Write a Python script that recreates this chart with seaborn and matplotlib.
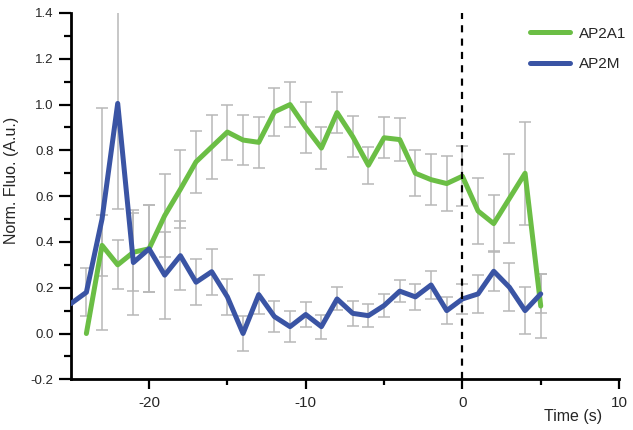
import numpy as np
import pandas as pd
import matplotlib
matplotlib.use("Agg")
import matplotlib.pyplot as plt
from matplotlib.ticker import MultipleLocator, FixedLocator
import seaborn as sns

# ---- data ----
time_blue = list(range(-25, 6))
time_green = list(range(-24, 6))

ap2a1 = [0.00, 0.385, 0.30, 0.355, 0.37, 0.515, 0.63, 0.75, 0.815, 0.88,
         0.845, 0.835, 0.968, 1.00, 0.90, 0.81, 0.965, 0.86, 0.735, 0.855,
         0.847, 0.70, 0.672, 0.655, 0.687, 0.535, 0.48, 0.59, 0.70, 0.12]
ap2a1_err = [0.0, 0.133, 0.107, 0.17, 0.19, 0.18, 0.17, 0.135, 0.14, 0.12,
             0.11, 0.11, 0.105, 0.10, 0.11, 0.09, 0.09, 0.09, 0.08, 0.09,
             0.095, 0.10, 0.11, 0.12, 0.13, 0.145, 0.125, 0.195, 0.225, 0.14]

ap2m = [0.13, 0.18, 0.50, 1.005, 0.31, 0.37, 0.255, 0.34, 0.224, 0.27,
        0.16, 0.00, 0.17, 0.074, 0.03, 0.083, 0.03, 0.151, 0.088, 0.078,
        0.122, 0.185, 0.16, 0.212, 0.10, 0.151, 0.173, 0.272, 0.202, 0.10, 0.173]
ap2m_err = [np.nan, 0.105, 0.485, 0.46, 0.23, 0.19, 0.19, 0.15, 0.10, 0.10,
            0.08, 0.077, 0.084, 0.066, 0.067, 0.056, 0.053, 0.05, 0.055, 0.05,
            0.05, 0.047, 0.057, 0.063, 0.06, 0.064, 0.082, 0.087, 0.105, 0.104, 0.085]

series_names = ["AP2A1", "AP2M"]
colors = {"AP2A1": "#6BBE45", "AP2M": "#3A54A4"}
err_color = "#B8B8B8"

df = pd.concat([
    pd.DataFrame({"Time": time_green, "Value": ap2a1, "Err": ap2a1_err, "Series": "AP2A1"}),
    pd.DataFrame({"Time": time_blue, "Value": ap2m, "Err": ap2m_err, "Series": "AP2M"}),
], ignore_index=True)

# ---- figure ----
sns.set_style("ticks")
plt.rcParams["font.family"] = ["Liberation Sans", "DejaVu Sans"]
plt.rcParams["axes.unicode_minus"] = False

fig = plt.figure(figsize=(6.33, 4.30), dpi=100)
ax = fig.add_axes([0.1117, 0.1179, 0.978 - 0.1117, 0.9698 - 0.1179])

# error bars
for name in series_names:
    sub = df[(df["Series"] == name) & df["Err"].notna() & (df["Err"] > 0)]
    ax.errorbar(sub["Time"], sub["Value"], yerr=sub["Err"], fmt="none",
                ecolor=err_color, elinewidth=1.1, capsize=4.6, capthick=1.1,
                zorder=2)

sns.lineplot(data=df, x="Time", y="Value", hue="Series", hue_order=series_names,
             palette=colors, linewidth=3.6, legend=False, ax=ax, zorder=3)

ax.axvline(0, color="black", lw=1.6, ls=(0, (3.2, 2.8)), zorder=4)

ax.set_xlim(-25, 10)
ax.set_ylim(-0.2, 1.4)

ax.xaxis.set_major_locator(FixedLocator([-20, -10, 0, 10]))
ax.xaxis.set_minor_locator(FixedLocator([-15, -5, 5]))
ax.yaxis.set_major_locator(MultipleLocator(0.2))
ax.yaxis.set_minor_locator(MultipleLocator(0.1))
ax.set_yticklabels([f"{v:.1f}" for v in ax.get_yticks()])
ax.set_xticklabels([f"{v:d}" for v in [-20, -10, 0, 10]])

for s in ["top", "right"]:
    ax.spines[s].set_visible(False)
for s in ["left", "bottom"]:
    ax.spines[s].set_linewidth(2.0)
    ax.spines[s].set_color("black")

ax.tick_params(axis="y", which="major", length=8.9, width=1.6, labelsize=9.5, pad=3.5, color="black")
ax.tick_params(axis="y", which="minor", length=5.2, width=1.6, color="black")
ax.tick_params(axis="x", which="major", length=7.2, width=1.6, labelsize=11, pad=5, color="black")
ax.tick_params(axis="x", which="minor", length=4.4, width=1.6, color="black")

ax.set_xlabel("Time (s)", fontsize=11.5)
ax.xaxis.set_label_coords(0.916, -0.082)
ax.set_ylabel("Norm. Fluo. (A.u.)", fontsize=11.5)
ax.yaxis.set_label_coords(-0.094, 0.544)

handles = [plt.Line2D([], [], color=colors[n], lw=3.6) for n in series_names]
ax.legend(handles, series_names, loc="upper left", bbox_to_anchor=(0.838, 0.963),
          frameon=False, fontsize=11, handlelength=2.6, handletextpad=0.6,
          labelspacing=1.1, borderaxespad=0, borderpad=0)

fig.savefig("out.png", dpi=100)
